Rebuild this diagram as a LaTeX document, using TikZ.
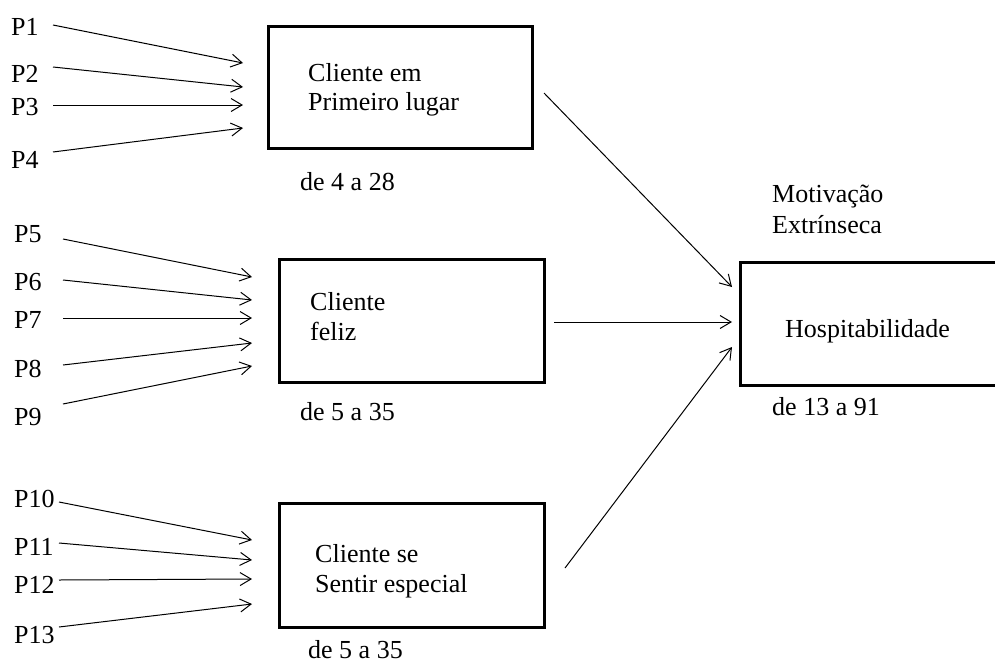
\documentclass[tikz,border=0pt]{standalone}
\usepackage{fontspec}
\setmainfont{Liberation Serif}
\usetikzlibrary{arrows.meta}
\begin{document}
\begin{tikzpicture}[x=1pt,y=-1pt,
  txt/.style={anchor=base west,inner sep=0pt,font=\fontsize{26}{30}\selectfont},
  blockbox/.style={draw,line width=3pt,inner sep=0pt},
  arr/.style={line width=1pt,-{Straight Barb[length=11pt,width=13pt,line width=1pt]}}]
\useasboundingbox (0,0) rectangle (995,664);

% item labels
\node[txt] (p1)  at (11,35)  {P1};
\node[txt] (p2)  at (11,82)  {P2};
\node[txt] (p3)  at (11,115) {P3};
\node[txt] (p4)  at (11,168) {P4};
\node[txt] (p5)  at (14,242) {P5};
\node[txt] (p6)  at (14,290) {P6};
\node[txt] (p7)  at (14,328) {P7};
\node[txt] (p8)  at (14,377) {P8};
\node[txt] (p9)  at (14,425) {P9};
\node[txt] (p10) at (14,507) {P10};
\node[txt] (p11) at (14,555) {P11};
\node[txt] (p12) at (14,593) {P12};
\node[txt] (p13) at (14,643) {P13};

% dimension boxes
\node[blockbox,minimum width=264pt,minimum height=122pt] (b1) at (400,87) {};
\node[blockbox,minimum width=265pt,minimum height=123pt] (b2) at (411.5,320.5) {};
\node[blockbox,minimum width=265pt,minimum height=124pt] (b3) at (411.5,565) {};
\node[blockbox,minimum width=262pt,minimum height=123pt] (h) at (871,323.5) {};

\node[txt] (b1a) at (308,81)  {Cliente em};
\node[txt] (b1b) at (308,110) {Primeiro lugar};
\node[txt] (b1r) at (300,190) {de 4 a 28};
\node[txt] (b2a) at (310,310) {Cliente};
\node[txt] (b2b) at (310,340) {feliz};
\node[txt] (b2r) at (300,420) {de 5 a 35};
\node[txt] (b3a) at (315,562) {Cliente se};
\node[txt] (b3b) at (315,592) {Sentir especial};
\node[txt] (b3r) at (308,658) {de 5 a 35};

\node[txt] (ha) at (772,202) {Motivação};
\node[txt] (hb) at (772,233) {Extrínseca};
\node[txt] (hc) at (785,337) {Hospitabilidade};
\node[txt] (hr) at (772,415) {de 13 a 91};

% arrow end points
\coordinate (s1) at (53,25);   \coordinate (t1) at (243,63);
\coordinate (s2) at (53,67);   \coordinate (t2) at (243,87);
\coordinate (s3) at (53,105);  \coordinate (t3) at (243,105);
\coordinate (s4) at (53,152);  \coordinate (t4) at (243,128);
\coordinate (s5) at (63,239);  \coordinate (t5) at (252,277);
\coordinate (s6) at (63,280);  \coordinate (t6) at (252,300);
\coordinate (s7) at (63,318);  \coordinate (t7) at (252,318);
\coordinate (s8) at (63,365);  \coordinate (t8) at (252,343);
\coordinate (s9) at (63,404);  \coordinate (t9) at (252,366);
\coordinate (s10) at (59,502); \coordinate (t10) at (252,540);
\coordinate (s11) at (59,543); \coordinate (t11) at (252,560);
\coordinate (s12) at (59,580); \coordinate (t12) at (252,579);
\coordinate (s13) at (59,627); \coordinate (t13) at (252,604);

\coordinate (o1) at (544,93);  \coordinate (i1) at (732,287);
\coordinate (o2) at (554,322); \coordinate (i2) at (732,322);
\coordinate (o3) at (565,568); \coordinate (i3) at (732,347);

\foreach \k in {1,...,13} {\draw[arr] (s\k) -- (t\k);}
\foreach \k in {1,2,3} {\draw[arr] (o\k) -- (i\k);}
\end{tikzpicture}
\end{document}
